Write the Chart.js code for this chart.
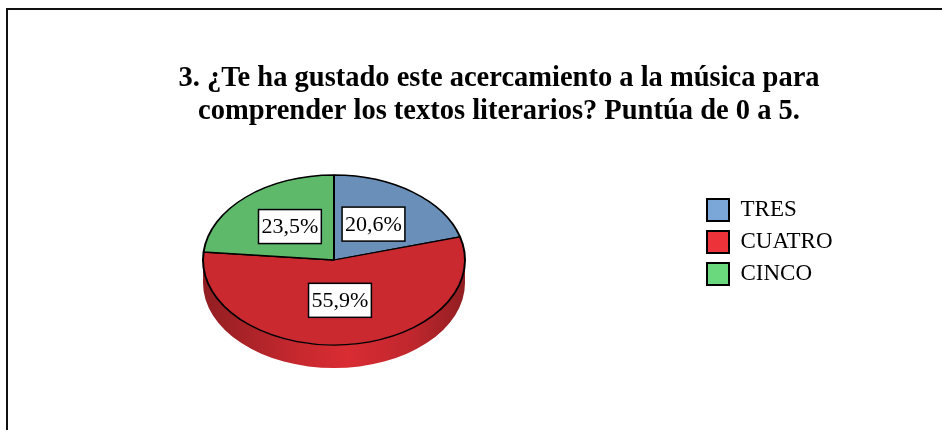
<!DOCTYPE html>
<html>
<head>
<meta charset="utf-8">
<script src="https://cdn.jsdelivr.net/npm/chart.js@4.4.1/dist/chart.umd.min.js"></script>
<style>
  html, body { margin: 0; padding: 0; background: #fff; overflow: hidden; }
  #frame { position: absolute; left: 6px; top: 8px; width: 980px; height: 480px; border: 2px solid #111; }
  #wrap { position: absolute; left: 0; top: 0; width: 942px; height: 430px; }
</style>
</head>
<body>
<div id="frame"></div>
<div id="wrap"><canvas id="pie-canvas" width="942" height="430"></canvas></div>
<script>
const categories = ['TRES', 'CUATRO', 'CINCO'];
const percentages = [20.6, 55.9, 23.5];
const titleLines = [
  '3. ¿Te ha gustado este acercamiento a la música para',
  'comprender los textos literarios? Puntúa de 0 a 5.'
];
const topColors = ['#6A90B9', '#C9292F', '#5FB96B'];
const legendColors = ['#7BA6D8', '#EE323A', '#6AD97E'];

// where the tilted pie sits on the sheet
const PIE_X = 334, PIE_Y = 260, TILT = 0.649, DEPTH = 23;

function shade(hex, f) {
  const n = parseInt(hex.slice(1), 16);
  const c = [n >> 16, (n >> 8) & 255, n & 255].map(v => Math.max(0, Math.min(255, Math.round(v * f))));
  return `rgb(${c[0]},${c[1]},${c[2]})`;
}

const pie3d = {
  id: 'pie3d',
  afterLayout(chart) {
    // put the legend next to the pie, like the original sheet
    const lg = chart.legend;
    const w = lg.width, h = lg.height;
    lg.left = 698; lg.right = lg.left + w;
    lg.top = 189.5; lg.bottom = lg.top + h;
  },
  beforeDatasetsDraw(chart) {
    const { ctx } = chart;
    const arcs = chart.getDatasetMeta(0).data;
    const cx = arcs[0].x, cy = arcs[0].y, r = arcs[0].outerRadius;
    const ry = r * TILT;

    // side wall, only the front half can be seen
    arcs.forEach((arc, i) => {
      const s = Math.max(arc.startAngle, 0);
      const e = Math.min(arc.endAngle, Math.PI);
      if (e <= s) return;
      const grad = ctx.createLinearGradient(PIE_X - r, 0, PIE_X + r, 0);
      grad.addColorStop(0, shade(topColors[i], 0.72));
      grad.addColorStop(0.35, shade(topColors[i], 0.98));
      grad.addColorStop(0.55, shade(topColors[i], 1.08));
      grad.addColorStop(0.8, shade(topColors[i], 0.95));
      grad.addColorStop(1, shade(topColors[i], 0.72));
      ctx.beginPath();
      ctx.ellipse(PIE_X, PIE_Y, r, ry, 0, s, e, false);
      ctx.ellipse(PIE_X, PIE_Y + DEPTH, r, ry, 0, e, s, true);
      ctx.closePath();
      ctx.fillStyle = grad;
      ctx.fill();
    });

    ctx.save();
    ctx.translate(PIE_X, PIE_Y);
    ctx.scale(1, TILT);
    ctx.translate(-cx, -cy);
  },
  afterDatasetsDraw(chart) {
    const { ctx } = chart;
    ctx.restore();
    const arcs = chart.getDatasetMeta(0).data;
    const cx = arcs[0].x, cy = arcs[0].y;

    // percentage labels in white boxes
    ctx.save();
    ctx.font = '22px "Liberation Serif"';
    ctx.textAlign = 'center';
    ctx.textBaseline = 'middle';
    arcs.forEach((arc, i) => {
      const p = arc.tooltipPosition(true);
      const x = PIE_X + (p.x - cx);
      const y = PIE_Y + (p.y - cy) * TILT - 2;
      const text = percentages[i].toFixed(1).replace('.', ',') + '%';
      const bw = ctx.measureText(text).width + 6, bh = 34;
      ctx.fillStyle = '#fff';
      ctx.fillRect(x - bw / 2, y - bh / 2, bw, bh);
      ctx.strokeStyle = '#000';
      ctx.lineWidth = 1.5;
      ctx.strokeRect(x - bw / 2, y - bh / 2, bw, bh);
      ctx.fillStyle = '#000';
      ctx.fillText(text, x, y + 1);
    });
    ctx.restore();
  }
};

const ctx = document.getElementById('pie-canvas');

const pieChart = new Chart(ctx, {
  type: 'pie',
  data: {
    labels: categories,
    datasets: [{
      data: percentages,
      backgroundColor: topColors,
      borderColor: '#000',
      borderWidth: 2,
      radius: 131,
      clip: false,
    }]
  },
  options: {
    responsive: false,
    devicePixelRatio: 1,
    animation: false,
    events: [],
    layout: {
      padding: { left: 56, right: 0, top: 0, bottom: 0 }
    },
    plugins: {
      title: {
        display: true,
        text: titleLines,
        color: '#000',
        font: { family: 'Liberation Serif', size: 28.5, weight: 'bold', lineHeight: 1.13 },
        padding: { top: 63, bottom: 10 }
      },
      legend: {
        position: 'right',
        align: 'start',
        labels: {
          color: '#000',
          boxWidth: 22,
          boxHeight: 22,
          padding: 9,
          font: { family: 'Liberation Serif', size: 23 },
          generateLabels: () => categories.map((c, i) => ({
            text: c,
            fillStyle: legendColors[i],
            strokeStyle: '#000',
            lineWidth: 2,
            fontColor: '#000',
            hidden: false,
            index: i
          }))
        }
      },
      tooltip: { enabled: false }
    }
  },
  plugins: [pie3d]
});
</script>
</body>
</html>
